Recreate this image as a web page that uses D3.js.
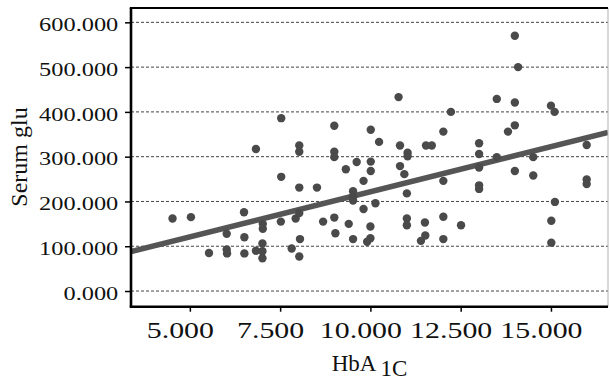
<!DOCTYPE html>
<html>
<head>
<meta charset="utf-8">
<script src="https://cdn.jsdelivr.net/npm/d3@7"></script>
<style>
  html, body { margin: 0; padding: 0; background: #fff; }
  svg { display: block; }
  svg text { font-family: "Liberation Serif", "Times New Roman", serif !important; fill: #111; }
</style>
</head>
<body>
<svg id="chart" width="610" height="380"></svg>
<script>
// ---- data ----
const hba1c = [4.52,5.03,5.53,6.02,6.02,6.03,6.50,6.51,6.51,6.83,6.83,7.02,7.02,7.01,7.01,7.01,7.52,7.53,7.53,7.82,
  7.93,8.03,8.05,8.03,8.03,8.03,8.03,8.52,8.69,9.00,9.00,9.00,9.00,9.03,9.32,9.40,9.62,9.52,9.52,9.52,
  9.52,9.81,9.81,10.01,10.01,10.01,10.00,10.00,9.91,10.14,10.24,10.78,10.82,10.82,10.94,11.03,11.03,11.01,11.01,11.01,
  11.40,11.52,11.51,11.54,11.70,12.02,12.02,12.02,12.02,12.23,12.51,13.01,13.01,13.01,13.01,13.01,13.50,13.50,13.81,14.00,
  14.00,14.00,14.09,14.00,14.51,14.51,15.00,15.10,15.11,15.01,15.01,15.99,15.99,15.99];
const serumGlu = [162,165,85,128,93,84,176,120,84,90,317,150,139,106,89,73,155,386,255,95,
  162,174,116,77,325,311,231,231,155,369,311,299,164,129,272,150,288,223,211,202,
  116,246,183,360,289,268,144,118,110,196,333,433,325,279,261,309,301,218,162,147,
  112,124,153,325,325,356,246,166,116,400,147,330,306,276,236,228,429,299,356,370,
  421,570,500,268,299,258,414,400,199,157,108,326,249,239];
const xTicks = [5, 7.5, 10, 12.5, 15];
const yTicks = [0, 100, 200, 300, 400, 500, 600];
const fitIntercept = 20.4;
const fitSlope = 20.12;
const xTitle = "HbA";
const xTitleSub = "1C";
const yTitle = "Serum glu";

// ---- layout ----
const L = 131, R = 608, T = 8, B = 306.7;
const SERIF = "Liberation Serif, Times New Roman, serif";
const svg = d3.select("#chart");
const x = d3.scaleLinear().domain([3.37, 16.58]).range([L, R]);
const y = d3.scaleLinear().domain([-35, 632]).range([B, T]);
const fmt = d3.format(".3f");

// grid lines
svg.append("g").selectAll("line").data(yTicks).join("line")
  .attr("x1", L).attr("x2", R)
  .attr("y1", d => y(d)).attr("y2", d => y(d))
  .attr("stroke", "#444").attr("stroke-width", 1)
  .attr("stroke-dasharray", "3,2");

// regression line (clipped to plot)
svg.append("clipPath").attr("id", "clip").append("rect")
  .attr("x", L).attr("y", T).attr("width", R - L).attr("height", B - T);
const xd = x.domain();
svg.append("line")
  .attr("clip-path", "url(#clip)")
  .attr("x1", x(xd[0])).attr("y1", y(fitIntercept + fitSlope * xd[0]))
  .attr("x2", x(xd[1])).attr("y2", y(fitIntercept + fitSlope * xd[1]))
  .attr("stroke", "#555").attr("stroke-width", 5.5);

// points
svg.append("g").selectAll("circle").data(hba1c.map((v, i) => [v, serumGlu[i]])).join("circle")
  .attr("cx", d => x(d[0])).attr("cy", d => y(d[1])).attr("r", 4.2)
  .attr("fill", "#4a4a4a");

// borders
svg.append("line").attr("x1", R).attr("x2", R).attr("y1", T).attr("y2", B)
  .attr("stroke", "#b0b0b0").attr("stroke-width", 1);
svg.append("line").attr("x1", L - 1.2).attr("x2", R).attr("y1", T).attr("y2", T)
  .attr("stroke", "#000").attr("stroke-width", 2);

// y axis
const gy = svg.append("g").attr("transform", `translate(${L},0)`)
  .call(d3.axisLeft(y).tickValues(yTicks).tickFormat(fmt).tickSize(6).tickPadding(6))
  .attr("font-family", SERIF);
gy.select(".domain").attr("d", `M0,${T}V${B}`).attr("stroke", "#000").attr("stroke-width", 2.6);
gy.selectAll(".tick line").attr("stroke", "#000").attr("stroke-width", 1.5);
gy.selectAll(".tick text")
  .attr("font-size", 19.5).attr("fill", "#111").attr("font-family", SERIF)
  .attr("x", -12.7 / 1.25).attr("dy", "0.42em")
  .attr("transform", "scale(1.25,1)");

// x axis
const gx = svg.append("g").attr("transform", `translate(0,${B})`)
  .call(d3.axisBottom(x).tickValues(xTicks).tickFormat(fmt).tickSize(5).tickPadding(8))
  .attr("font-family", SERIF);
gx.select(".domain").attr("d", `M${L - 1.3},0H${R}`).attr("stroke", "#000").attr("stroke-width", 2.6);
gx.selectAll(".tick line").attr("stroke", "#000").attr("stroke-width", 1.5);
gx.selectAll(".tick text")
  .attr("font-size", 23).attr("fill", "#111").attr("font-family", SERIF)
  .attr("y", 0).attr("dy", 0)
  .attr("transform", "translate(-10,31.5) scale(1.3,1)");

// axis titles
const xt = svg.append("text")
  .attr("x", (L + R) / 2).attr("y", 371)
  .attr("text-anchor", "middle").attr("font-size", 23).attr("fill", "#111");
xt.append("tspan").text(xTitle);
xt.append("tspan").attr("dx", 4).attr("dy", 5).text(xTitleSub);

svg.append("text")
  .attr("transform", `translate(27,157) rotate(-90)`)
  .attr("text-anchor", "middle").attr("font-size", 24).attr("fill", "#111")
  .text(yTitle);
</script>
</body>
</html>
